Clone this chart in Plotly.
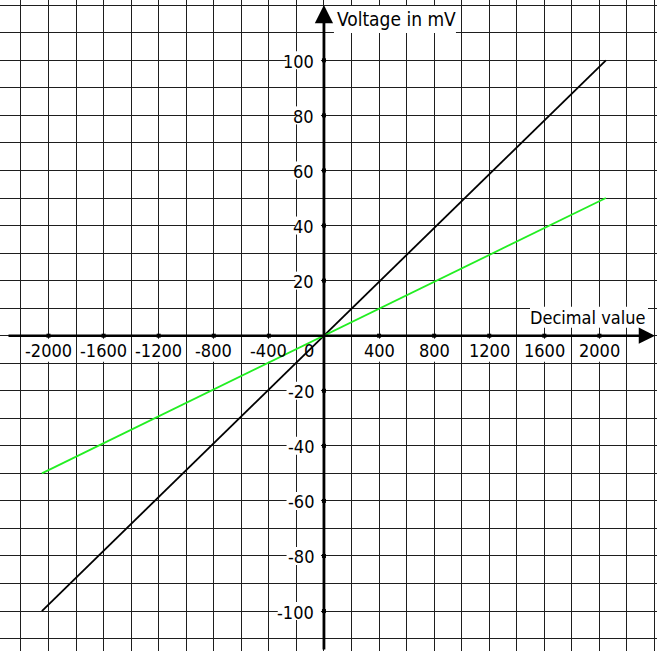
import plotly.graph_objects as go

# ---- data ----
dec_values = [-2048, 2047]
voltage_black = [-100, 100]
voltage_green = [-50, 50]
x_tick_vals = [-2000, -1600, -1200, -800, -400, 400, 800, 1200, 1600, 2000]
y_tick_vals = [-100, -80, -60, -40, -20, 20, 40, 60, 80, 100]
x_title = "Decimal value"
y_title = "Voltage in mV"

W, H = 657, 651
XMIN, XMAX = -2352, 2418
YMIN, YMAX = -114.5, 121.9
SX = W / (XMAX - XMIN)   # px per unit
SY = H / (YMAX - YMIN)

FONT = "DejaVu Sans Condensed, Liberation Sans Narrow, sans-serif"
TICK_SIZE = 18

fig = go.Figure()

# lines
fig.add_trace(go.Scatter(x=dec_values, y=voltage_black, mode="lines",
                         line=dict(color="#000000", width=1.8), hoverinfo="skip"))
fig.add_trace(go.Scatter(x=dec_values, y=voltage_green, mode="lines",
                         line=dict(color="#22ee22", width=1.8), hoverinfo="skip"))

# tick dots
fig.add_trace(go.Scatter(x=x_tick_vals, y=[0] * len(x_tick_vals), mode="markers",
                         marker=dict(symbol="square", size=4, color="black"), hoverinfo="skip"))
fig.add_trace(go.Scatter(x=[0] * len(y_tick_vals), y=y_tick_vals, mode="markers",
                         marker=dict(symbol="square", size=4, color="black"), hoverinfo="skip"))

shapes = []
annotations = []

def box(xv, yv, x0, x1, y0, y1):
    shapes.append(dict(type="rect", layer="between", xref="x", yref="y",
                       xsizemode="pixel", ysizemode="pixel", xanchor=xv, yanchor=yv,
                       x0=x0, x1=x1, y0=y0, y1=y1,
                       fillcolor="white", line=dict(width=0)))

# x tick labels
for v in x_tick_vals:
    t = str(v)
    w = 8.8 * len(t) + 5
    box(v, 0, -w / 2, w / 2, -3, -26)
    annotations.append(dict(x=v, y=0, xref="x", yref="y", text=t, showarrow=False,
                            xanchor="center", yanchor="middle", yshift=-15,
                            font=dict(family=FONT, size=TICK_SIZE, color="black")))
# zero label
box(0, 0, -24, -6, -3, -26)
annotations.append(dict(x=0, y=0, xref="x", yref="y", text="0", showarrow=False,
                        xanchor="center", yanchor="middle", yshift=-15, xshift=-15,
                        font=dict(family=FONT, size=TICK_SIZE, color="black")))

# y tick labels
for v in y_tick_vals:
    t = str(v)
    w = 8.8 * len(t) + 3
    box(0, v, -8 - w, -3, -9, 9)
    annotations.append(dict(x=0, y=v, xref="x", yref="y", text=t, showarrow=False,
                            xanchor="right", yanchor="middle", xshift=-8, yshift=-1,
                            font=dict(family=FONT, size=TICK_SIZE, color="black")))

# axis titles
box(0, YMAX, 10, 132, -6, -33)
annotations.append(dict(x=0, y=YMAX, xref="x", yref="y", text=y_title, showarrow=False,
                        xanchor="left", yanchor="middle", xshift=11, yshift=-19,
                        font=dict(family=FONT, size=19, color="black")))
box(XMAX, 0, -127, -9, 8, 29)
annotations.append(dict(x=XMAX, y=0, xref="x", yref="y", text=x_title, showarrow=False,
                        xanchor="right", yanchor="middle", xshift=-10, yshift=18,
                        font=dict(family=FONT, size=18, color="black")))

# axes with arrows
annotations.append(dict(x=XMAX - 2 / SX, y=0, ax=XMIN + 7 / SX, ay=0,
                        xref="x", yref="y", axref="x", ayref="y", text="",
                        showarrow=True, arrowhead=2, arrowsize=1.3, arrowwidth=2.5,
                        arrowcolor="black"))
annotations.append(dict(x=0, y=YMAX - 5 / SY, ax=0, ay=YMIN,
                        xref="x", yref="y", axref="x", ayref="y", text="",
                        showarrow=True, arrowhead=2, arrowsize=1.3, arrowwidth=2.8,
                        arrowcolor="black"))

fig.update_layout(
    width=W, height=H,
    margin=dict(l=0, r=0, t=0, b=0),
    paper_bgcolor="white", plot_bgcolor="white",
    showlegend=False,
    shapes=shapes, annotations=annotations,
    xaxis=dict(range=[XMIN, XMAX], tick0=0, dtick=200, showgrid=True,
               gridcolor="#1e1e1e", gridwidth=1, zeroline=False,
               showticklabels=False, ticks="", showline=False, fixedrange=True),
    yaxis=dict(range=[YMIN, YMAX], tick0=0, dtick=10, showgrid=True,
               gridcolor="#1e1e1e", gridwidth=1, zeroline=False,
               showticklabels=False, ticks="", showline=False, fixedrange=True),
)

fig.write_html("out.html", config={"displayModeBar": False},
               post_script="document.body.style.margin='0';document.body.style.overflow='hidden';")
